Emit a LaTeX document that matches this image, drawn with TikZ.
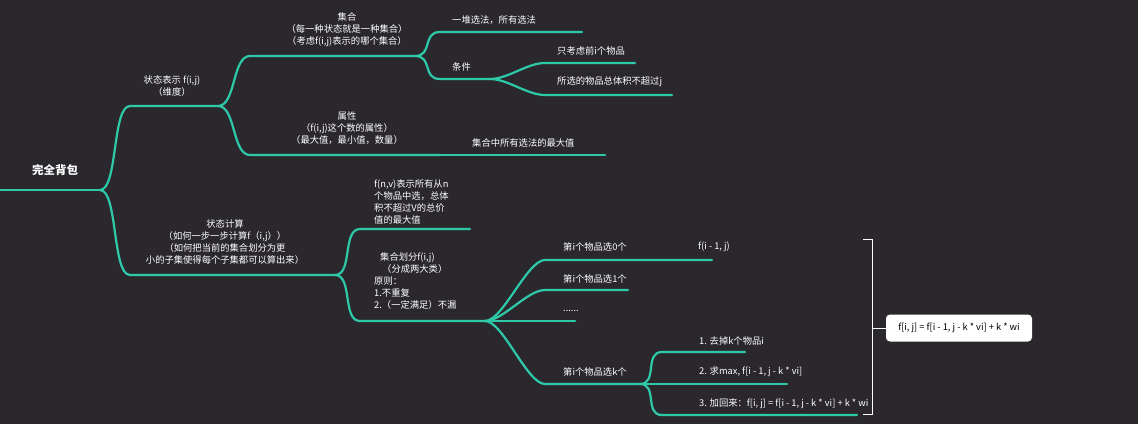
\documentclass[tikz,border=0pt]{standalone}
\usepackage{fontspec}
\setmainfont{Noto Sans CJK SC}
\definecolor{bgdark}{HTML}{2B282D}
\definecolor{teal}{HTML}{2EC9A8}
\tikzset{
  br/.style={draw=teal,line width=2.2pt,line cap=round},
  lbl/.style={text=white,font=\fontsize{9.3}{12}\selectfont,inner sep=0pt,align=center},
  lbll/.style={lbl,align=left,anchor=west},
}
\begin{document}
\begin{tikzpicture}[x=1pt,y=-1pt]
\fill[bgdark] (0,0) rectangle (1138,424);
\useasboundingbox (0,0) rectangle (1138,424);

% points of the tree
\coordinate (root) at (100,190);
\coordinate (s1) at (130,106);  \coordinate (s1e) at (218,106);
\coordinate (jh) at (250,56);   \coordinate (jhe) at (415,56);
\coordinate (sx) at (250,155);  \coordinate (sxe) at (440,155);
\coordinate (yd) at (440,32);   \coordinate (yde) at (582,32);
\coordinate (tj) at (440,79);   \coordinate (tje) at (490,79);
\coordinate (zk) at (545,63);   \coordinate (zke) at (635,63);
\coordinate (sx2) at (545,95);  \coordinate (sx2e) at (672,95);
\coordinate (zd) at (605,155);
\coordinate (s2) at (130,275);  \coordinate (s2e) at (335,275);
\coordinate (fn) at (360,229);  \coordinate (fne) at (470,229);
\coordinate (hf) at (360,321);  \coordinate (hfe) at (485,321);
\coordinate (c0) at (545,260);  \coordinate (c0e) at (712,260);
\coordinate (c1) at (545,290);  \coordinate (c1e) at (628,290);
\coordinate (cd) at (545,321);  \coordinate (cde) at (575,321);
\coordinate (ck) at (545,384);  \coordinate (cke) at (640,384);
\coordinate (k1) at (662,352);  \coordinate (k1e) at (745,352);
\coordinate (k2) at (662,384);  \coordinate (k2e) at (787,384);
\coordinate (k3) at (662,415);  \coordinate (k3e) at (857,415);

% connectors
\draw[br] (0,190) -- (root);
\foreach \a/\b/\c in {root/s1/s1e,root/s2/s2e,s1e/jh/jhe,s1e/sx/sxe,
  jhe/yd/yde,jhe/tj/tje,tje/zk/zke,tje/sx2/sx2e,s2e/fn/fne,s2e/hf/hfe,
  hfe/c0/c0e,hfe/c1/c1e,hfe/cd/cde,hfe/ck/cke,cke/k1/k1e,cke/k2/k2e,cke/k3/k3e}
  \draw[br] (\a) .. controls +(18,0) and +(-18,0) .. (\b) -- (\c);
\draw[br] (sxe) -- (zd);

% texts
\node[lbl,font=\fontsize{11.5}{13}\selectfont\bfseries] (n0) at (55,170) {完全背包};
\node[lbl] (n1) at (172,86) {状态表示 f(i,j)\\（维度）};
\node[lbl] (n2) at (347,30) {集合\\（每一种状态就是一种集合）\\（考虑f(i,j)表示的哪个集合）};
\node[lbl] (n3) at (347,128) {属性\\（f(i,j)这个数的属性）\\（最大值，最小值，数量）};
\node[lbll] (n4) at (452,20) {一堆选法，所有选法};
\node[lbll] (n5) at (452,67) {条件};
\node[lbll] (n6) at (557,51) {只考虑前i个物品};
\node[lbll] (n7) at (557,82) {所选的物品总体积不超过j};
\node[lbll] (n8) at (472,143) {集合中所有选法的最大值};
\node[lbl] (n9) at (225,242) {状态计算\\（如何一步一步计算f（i,j））\\（如何把当前的集合划分为更\\小的子集使得每个子集都可以算出来）};
\node[lbll,align=left] (n10) at (374,202) {f(n,v)表示所有从n\\个物品中选，总体\\积不超过V的总价\\值的最大值};
\node[lbll,align=left] (n11) at (374,281) {\hspace*{6pt}集合划分f(i,j)\\\hspace*{8pt}（分成两大类）\\原则：\\1.不重复\\2.（一定满足）不漏};
\node[lbll] (n12) at (563,247) {第i个物品选0个};
\node[lbll] (n13) at (698,247) {f(i - 1, j)};
\node[lbll] (n14) at (563,279) {第i个物品选1个};
\node[lbll] (n15) at (563,311) {......};
\node[lbll] (n16) at (563,372) {第i个物品选k个};
\node[lbll] (n17) at (699,341) {1. 去掉k个物品i};
\node[lbll] (n18) at (699,372) {2. 求max, f[i - 1, j - k * vi]};
\node[lbll] (n19) at (699,404) {3. 加回来：f[i, j] = f[i - 1, j - k * vi] + k * wi};

% bracket and result box
\draw[white,line width=1pt] (863,239) -- (872,239) -- (872,414) -- (863,414);
\node[fill=white,rounded corners=4pt,minimum width=146pt,minimum height=27pt,
  font=\fontsize{9.3}{11}\selectfont,text=black] (res) at (959,328) {f[i, j] = f[i - 1, j - k * vi] + k * wi};
\draw[white,line width=1pt] (872,328) -- (res.west);
\end{tikzpicture}
\end{document}
